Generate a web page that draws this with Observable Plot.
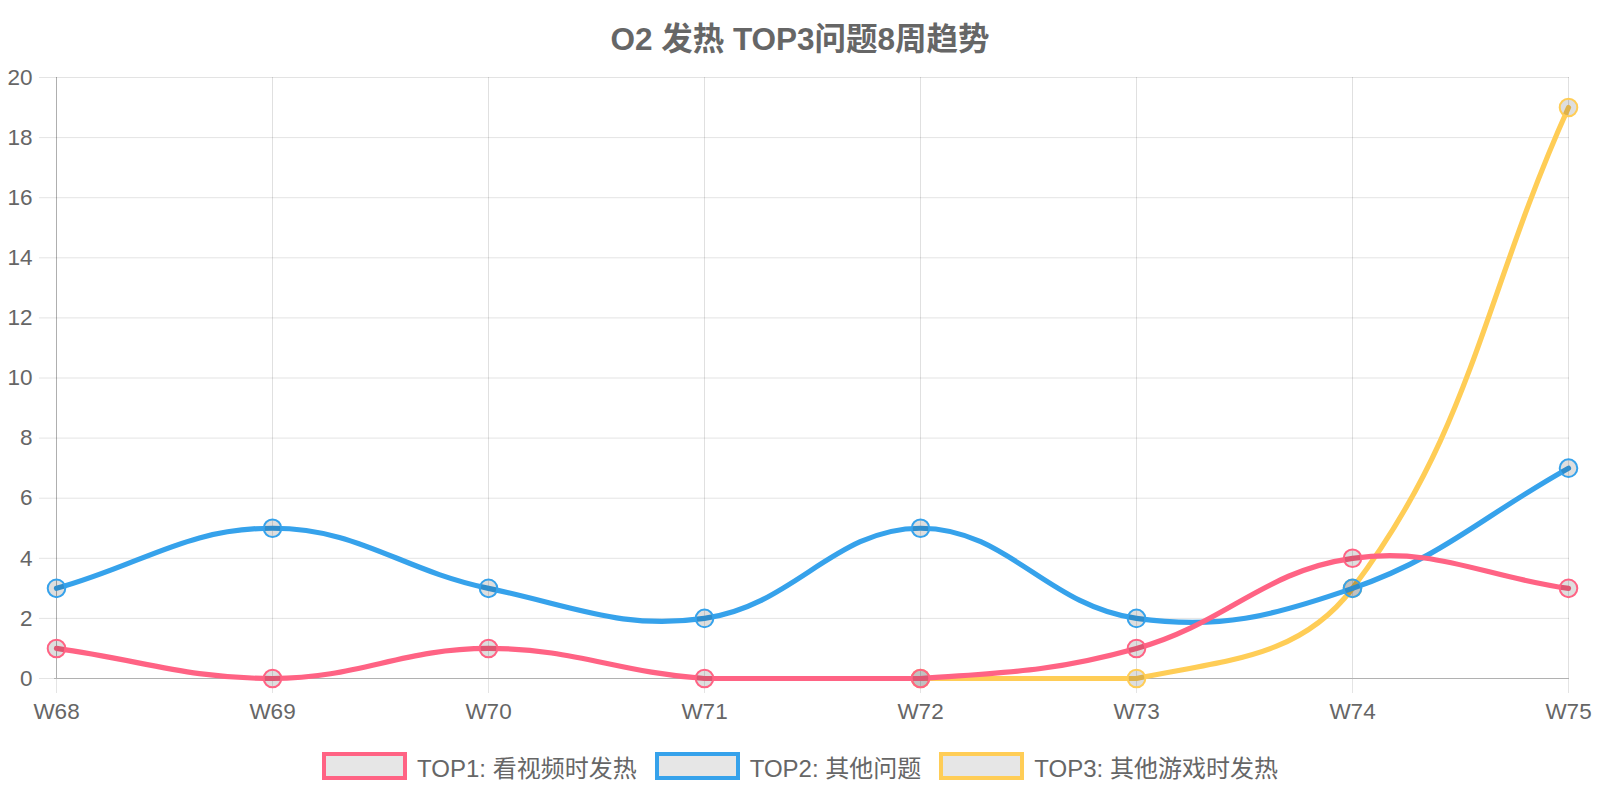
<!DOCTYPE html>
<html>
<head>
<meta charset="utf-8">
<script src="https://cdn.jsdelivr.net/npm/d3@7"></script>
<script src="https://cdn.jsdelivr.net/npm/@observablehq/plot@0.6"></script>
<style>
  html, body { margin: 0; padding: 0; background: #fff; }
  body { width: 1600px; font-family: "Liberation Sans", Arial, "Noto Sans CJK SC", sans-serif; color: #666; }
  #title { height: 34px; padding-top: 24px; line-height: 30px; text-align: center; font-weight: bold; font-size: 31.5px; color: #666; }
  #chart svg { display: block; }
  #legend { height: 36px; display: flex; justify-content: center; align-items: center; font-size: 24px; color: #666; }
  .item { display: flex; align-items: center; margin: 0 9px; }
  .box { box-sizing: border-box; width: 85px; height: 28px; border: 4.5px solid; background: #e6e6e6; margin-right: 10px; }
</style>
</head>
<body>
<div id="title">O2 发热 TOP3问题8周趋势</div>
<div id="chart"></div>
<div id="legend"></div>
<script>
const weeks = ["W68", "W69", "W70", "W71", "W72", "W73", "W74", "W75"];
const seriesNames = ["TOP1: 看视频时发热", "TOP2: 其他问题", "TOP3: 其他游戏时发热"];
const top1 = [1, 0, 1, 0, 0, 1, 4, 3];
const top2 = [3, 5, 3, 2, 5, 2, 3, 7];
const top3 = [null, null, null, null, 0, 0, 3, 19];
const yTicks = [0, 2, 4, 6, 8, 10, 12, 14, 16, 18, 20];
const colors = ["#ff6384", "#36a2eb", "#ffcd56"];

const W = 1600, H = 690, ML = 54, MR = 31, MT = 19, MB = 70;
const area = {left: ML, right: W - MR, top: MT, bottom: H - MB};

// Chart.js-style bezier spline (tension 0.4) with control points capped to the chart area
function chartjsCurve(context) {
  let pts = [];
  return {
    areaStart() {}, areaEnd() {},
    lineStart() { pts = []; },
    point(x, y) { pts.push([+x, +y]); },
    lineEnd() {
      const n = pts.length;
      if (!n) return;
      const t = 0.4;
      const cps = pts.map((p, i) => {
        const prev = pts[i - 1] || p, next = pts[i + 1] || p;
        const d01 = Math.hypot(p[0] - prev[0], p[1] - prev[1]);
        const d12 = Math.hypot(next[0] - p[0], next[1] - p[1]);
        let s01 = d01 / (d01 + d12), s12 = d12 / (d01 + d12);
        if (isNaN(s01)) s01 = 0;
        if (isNaN(s12)) s12 = 0;
        const fa = t * s01, fb = t * s12;
        const c = {
          c1x: p[0] - fa * (next[0] - prev[0]), c1y: p[1] - fa * (next[1] - prev[1]),
          c2x: p[0] + fb * (next[0] - prev[0]), c2y: p[1] + fb * (next[1] - prev[1])
        };
        const cx = v => Math.max(area.left, Math.min(area.right, v));
        const cy = v => Math.max(area.top, Math.min(area.bottom, v));
        c.c1x = cx(c.c1x); c.c2x = cx(c.c2x); c.c1y = cy(c.c1y); c.c2y = cy(c.c2y);
        return c;
      });
      context.moveTo(pts[0][0], pts[0][1]);
      for (let i = 1; i < n; i++) {
        context.bezierCurveTo(cps[i - 1].c2x, cps[i - 1].c2y, cps[i].c1x, cps[i].c1y, pts[i][0], pts[i][1]);
      }
    }
  };
}

const seriesValues = [top1, top2, top3];
const rows = [];
seriesValues.forEach((vals, s) => {
  vals.forEach((v, i) => { if (v != null) rows.push({series: seriesNames[s], week: weeks[i], value: v, s}); });
});

const marks = [
  Plot.gridY(yTicks, {stroke: "#000", strokeOpacity: 0.11, strokeWidth: 1}),
  Plot.gridX(weeks, {stroke: "#000", strokeOpacity: 0.12, strokeWidth: 1}),
  Plot.axisY(yTicks, {tickSize: 15, tickPadding: 7, stroke: "#e4e4e4", fill: "#666", fontSize: 22.5, label: null}),
  Plot.axisX(weeks, {tickSize: 15, tickPadding: 10, stroke: "#e4e4e4", fill: "#666", fontSize: 22.5, label: null}),
  Plot.ruleY([0], {stroke: "#000", strokeOpacity: 0.22}),
  Plot.ruleX([weeks[0]], {stroke: "#000", strokeOpacity: 0.22})
];
// draw last series first so TOP1 ends on top
for (let s = seriesValues.length - 1; s >= 0; s--) {
  const d = rows.filter(r => r.s === s);
  marks.push(Plot.line(d, {x: "week", y: "value", stroke: colors[s], strokeWidth: 5.2, curve: chartjsCurve}));
  marks.push(Plot.dot(d, {x: "week", y: "value", r: 8.8, fill: "rgba(0,0,0,0.13)", stroke: colors[s], strokeWidth: 2}));
}

const chart = Plot.plot({
  width: W, height: H,
  marginLeft: ML, marginRight: MR, marginTop: MT, marginBottom: MB,
  style: {fontFamily: '"Liberation Sans", Arial, "Noto Sans CJK SC", sans-serif', fontSize: "22.5px", color: "#666", background: "#fff", overflow: "visible"},
  x: {type: "point", domain: weeks, padding: 0, label: null},
  y: {domain: [0, 20], label: null},
  marks
});
document.getElementById("chart").appendChild(chart);

const legend = document.getElementById("legend");
seriesNames.forEach((name, i) => {
  const item = document.createElement("div");
  item.className = "item";
  const box = document.createElement("div");
  box.className = "box";
  box.style.borderColor = colors[i];
  const label = document.createElement("span");
  label.textContent = name;
  item.appendChild(box);
  item.appendChild(label);
  legend.appendChild(item);
});
</script>
</body>
</html>
